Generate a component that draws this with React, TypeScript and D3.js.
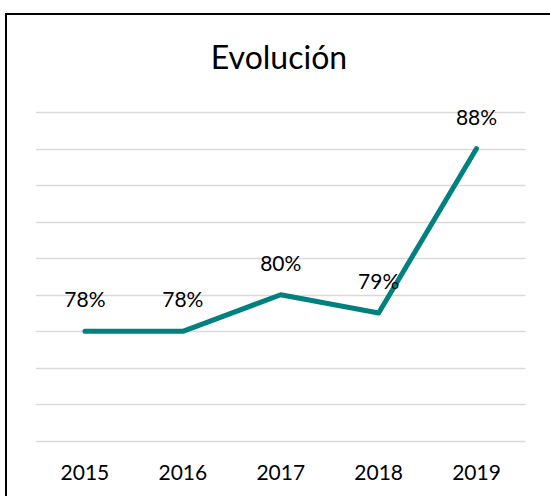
import { useEffect, useRef } from 'react';
import * as d3 from 'd3';

const years = ['2015', '2016', '2017', '2018', '2019'];
const values = [78, 78, 80, 79, 88];
const labels = ['78%', '78%', '80%', '79%', '88%'];
const yTicks = [72, 74, 76, 78, 80, 82, 84, 86, 88, 90];

const W = 550;
const H = 496;
const FONT = 'Lato, "Open Sans", sans-serif';

const App = () => {
    const svgRef = useRef<SVGSVGElement>(null);

    useEffect(() => {
        const svg = d3.select(svgRef.current);
        svg.selectAll('*').remove();

        svg.append('rect')
            .attr('x', 0).attr('y', 0).attr('width', W).attr('height', H)
            .attr('fill', '#fff');

        // chart frame, runs off the right and bottom edges
        svg.append('path')
            .attr('d', `M6,${H + 5} V14 H${W + 5}`)
            .attr('fill', 'none')
            .attr('stroke', '#000')
            .attr('stroke-width', 2);

        const x = d3.scaleBand().domain(years).range([36, 525.5]).padding(0);
        const y = d3.scaleLinear().domain([72, 90]).range([441, 112]);

        svg.append('g')
            .selectAll('line')
            .data(yTicks)
            .enter()
            .append('line')
            .attr('x1', 36).attr('x2', 525.5)
            .attr('y1', d => Math.round(y(d)) + 0.5)
            .attr('y2', d => Math.round(y(d)) + 0.5)
            .attr('stroke', '#d9d9d9')
            .attr('stroke-width', 1.5);

        svg.append('text')
            .attr('x', 279).attr('y', 69)
            .attr('text-anchor', 'middle')
            .attr('font-family', FONT)
            .attr('font-size', 32)
            .attr('fill', '#000')
            .text('Evolución');

        const cx = (d: string) => (x(d) as number) + x.bandwidth() / 2;

        svg.append('g')
            .selectAll('text')
            .data(years)
            .enter()
            .append('text')
            .attr('x', d => cx(d))
            .attr('y', 480)
            .attr('text-anchor', 'middle')
            .attr('font-family', FONT)
            .attr('font-size', 21)
            .attr('fill', '#000')
            .text(d => d);

        const line = d3.line<number>()
            .x((d, i) => cx(years[i]))
            .y(d => y(d));

        svg.append('path')
            .datum(values)
            .attr('d', line)
            .attr('fill', 'none')
            .attr('stroke', '#00807e')
            .attr('stroke-width', 5)
            .attr('stroke-linecap', 'round')
            .attr('stroke-linejoin', 'round');

        svg.append('g')
            .selectAll('text')
            .data(values)
            .enter()
            .append('text')
            .attr('x', (d, i) => cx(years[i]))
            .attr('y', d => y(d) - 24)
            .attr('text-anchor', 'middle')
            .attr('font-family', FONT)
            .attr('font-size', 21)
            .attr('fill', '#000')
            .text((d, i) => labels[i]);
    }, []);

    return (
        <svg ref={svgRef} width={W} height={H}
            style={{ position: 'absolute', left: 0, top: 0, display: 'block' }} />
    );
};

export default App;
